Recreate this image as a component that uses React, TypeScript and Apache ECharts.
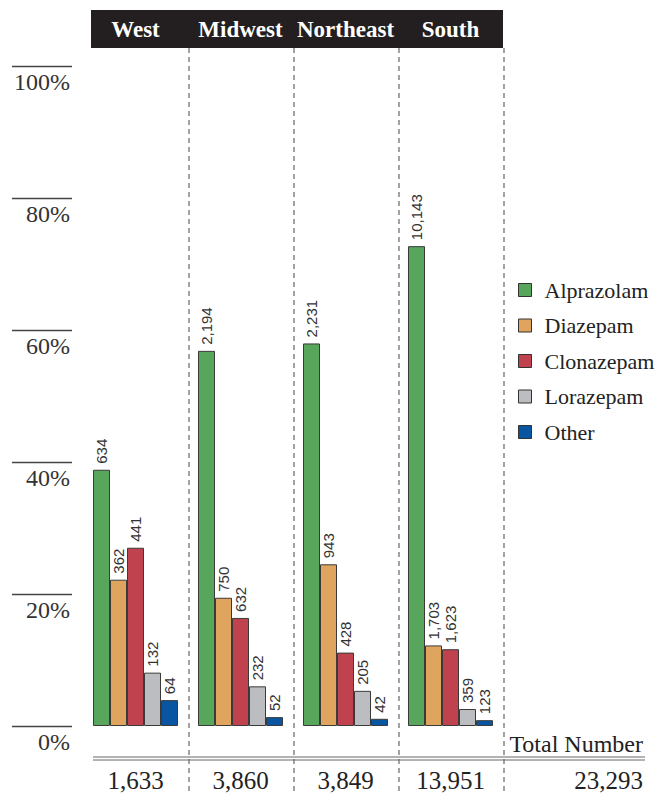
import React, { useEffect, useRef } from "react";
import * as echarts from "echarts";

const regions = ["West", "Midwest", "Northeast", "South"];
const drugNames = ["Alprazolam", "Diazepam", "Clonazepam", "Lorazepam", "Other"];
const alprazolam = [634, 2194, 2231, 10143];
const diazepam = [362, 750, 943, 1703];
const clonazepam = [441, 632, 428, 1623];
const lorazepam = [132, 232, 205, 359];
const other = [64, 52, 42, 123];
const regionTotals = [1633, 3860, 3849, 13951];
const grandTotal = 23293;
const yTicks = [0, 20, 40, 60, 80, 100];

const colors = ["#58a55c", "#dfa45e", "#bf424e", "#bcbdc1", "#0a55a2"];

const SERIF = "'Liberation Serif', 'DejaVu Serif', serif";
const SANS = "'Liberation Sans', 'DejaVu Sans', sans-serif";

const fmt = (n: number) => n.toLocaleString("en-US");

export default function App() {
  const ref = useRef<HTMLDivElement>(null);
  useEffect(() => {
    if (!ref.current) return;
    const chart = echarts.init(ref.current, undefined, { renderer: "svg" });
    const counts = [alprazolam, diazepam, clonazepam, lorazepam, other];
    const gridLeft = 83;
    const band = 105;
    const gridTop = 66;
    const gridBottomY = 726;

    const series = counts.map((arr, si) => ({
      name: drugNames[si],
      type: "bar",
      barWidth: 17,
      barGap: "0%",
      data: arr.map((v, i) => (v / regionTotals[i]) * 100),
      itemStyle: { color: colors[si], borderColor: "#3a3a3a", borderWidth: 1 },
      label: {
        show: true,
        position: "top",
        rotate: 90,
        align: "left",
        verticalAlign: "middle",
        distance: 6,
        fontFamily: SANS,
        fontSize: 15,
        color: "#333",
        formatter: (p: any) => fmt(counts[p.seriesIndex][p.dataIndex]),
      },
    }));

    const dividers = [1, 2, 3, 4].map((k) => ({
      type: "line",
      shape: { x1: gridLeft + band * k + 1, y1: 48, x2: gridLeft + band * k + 1, y2: 793 },
      style: { stroke: "#666", lineWidth: 1.2, lineDash: [5, 4] },
      z: 0,
    }));

    chart.setOption({
      animation: false,
      grid: { left: gridLeft, right: 668 - (gridLeft + band * 4), top: gridTop, bottom: 793 - gridBottomY },
      xAxis: [
        {
          type: "category",
          data: regions,
          position: "top",
          axisLine: { show: false },
          axisTick: { show: false },
          axisLabel: {
            interval: 0,
            hideOverlap: false,
            color: "#fff",
            fontFamily: SERIF,
            fontSize: 23,
            fontWeight: "bold",
            margin: 37,
            verticalAlign: "middle",
          },
        },
        {
          type: "category",
          data: regions,
          position: "bottom",
          axisLine: { show: false },
          axisTick: { show: false },
          axisLabel: {
            interval: 0,
            hideOverlap: false,
            color: "#222",
            fontFamily: SERIF,
            fontSize: 25,
            margin: 54,
            verticalAlign: "middle",
            formatter: (_v: string, i: number) => fmt(regionTotals[i]),
          },
        },
      ],
      yAxis: {
        type: "value",
        min: yTicks[0],
        max: yTicks[yTicks.length - 1],
        interval: 20,
        offset: 11,
        axisLine: { show: false },
        axisTick: { show: true, length: 60, lineStyle: { color: "#444", width: 1.3 } },
        splitLine: { show: false },
        axisLabel: {
          formatter: "{value}%",
          fontFamily: SERIF,
          fontSize: 24,
          color: "#333",
          margin: 2,
          verticalAlign: "top",
          padding: [4, 0, 0, 0],
        },
      },
      legend: {
        orient: "vertical",
        left: 513,
        top: 274,
        icon: "rect",
        itemWidth: 13,
        itemHeight: 13,
        itemGap: 13.5,
        itemStyle: { borderColor: "#333", borderWidth: 1 },
        textStyle: {
          fontFamily: SERIF,
          fontSize: 22,
          lineHeight: 22,
          color: "#222",
          padding: [0, 0, 0, 8],
        },
        data: drugNames,
      },
      graphic: [
        {
          type: "rect",
          shape: { x: 91, y: 10, width: 412, height: 38 },
          style: { fill: "#231f20" },
          z: -1,
        },
        ...dividers,
        {
          type: "line",
          shape: { x1: 93, y1: 757, x2: 645, y2: 757 },
          style: { stroke: "#666", lineWidth: 1 },
        },
        {
          type: "line",
          shape: { x1: 93, y1: 760, x2: 645, y2: 760 },
          style: { stroke: "#666", lineWidth: 1 },
        },
        {
          type: "text",
          x: 643,
          y: 744,
          style: {
            text: "Total Number",
            fontFamily: SERIF,
            fontSize: 24,
            fill: "#222",
            align: "right",
            verticalAlign: "middle",
          },
        },
        {
          type: "text",
          x: 643,
          y: 780,
          style: {
            text: fmt(grandTotal),
            fontFamily: SERIF,
            fontSize: 25,
            fill: "#222",
            align: "right",
            verticalAlign: "middle",
          },
        },
      ],
      series,
    });
    return () => chart.dispose();
  }, []);
  return (
    <div
      ref={ref}
      style={{ position: "absolute", left: 0, top: 0, width: 668, height: 793, background: "#fff" }}
    />
  );
}
